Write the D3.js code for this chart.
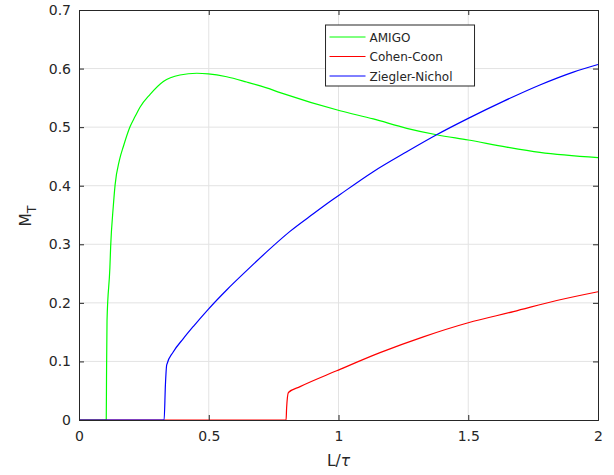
<!DOCTYPE html>
<html>
<head>
<meta charset="utf-8">
<script src="https://cdn.jsdelivr.net/npm/d3@7"></script>
<style>
  body { margin: 0; background: #fff; }
  text { font-family: "DejaVu Sans", sans-serif; fill: #262626; }
</style>
</head>
<body>
<div id="chart"></div>
<script>
// series
var amigoX = [0, 0.105, 0.106, 0.108, 0.119, 0.122, 0.132, 0.139, 0.156, 0.171, 0.197, 0.216, 0.235, 0.274, 0.325, 0.389, 0.454, 0.498, 0.569, 0.646, 0.723, 0.775, 1.006, 1.134, 1.263, 1.378, 1.5, 1.648, 1.776, 2.0];
var amigoY = [0, 0, 0.07, 0.17, 0.26, 0.296, 0.364, 0.401, 0.444, 0.467, 0.501, 0.518, 0.534, 0.556, 0.578, 0.589, 0.592, 0.591, 0.586, 0.577, 0.567, 0.559, 0.528, 0.514, 0.498, 0.487, 0.478, 0.466, 0.457, 0.448];

var cohenX = [0, 0.798, 0.800, 0.807, 0.852, 0.993, 1.160, 1.327, 1.5, 1.674, 1.841, 2.0];
var cohenY = [0, 0, 0.02, 0.047, 0.057, 0.084, 0.115, 0.142, 0.166, 0.185, 0.204, 0.219];

var zieglerX = [0, 0.328, 0.333, 0.338, 0.363, 0.402, 0.441, 0.498, 0.569, 0.646, 0.723, 0.813, 0.903, 0.974, 1.006, 1.134, 1.263, 1.378, 1.5, 1.635, 1.776, 1.905, 2.0];
var zieglerY = [0, 0, 0.06, 0.094, 0.116, 0.139, 0.160, 0.189, 0.222, 0.255, 0.287, 0.322, 0.352, 0.375, 0.385, 0.424, 0.458, 0.487, 0.515, 0.544, 0.572, 0.594, 0.607];

var seriesNames = ["AMIGO", "Cohen-Coon", "Ziegler-Nichol"];
var seriesColors = ["#00ff00", "#ff0000", "#0000ff"];
var xTicks = [0, 0.5, 1, 1.5, 2];
var yTicks = [0, 0.1, 0.2, 0.3, 0.4, 0.5, 0.6, 0.7];

var margin = {top: 10, right: 16, bottom: 55, left: 79},
    width = 614 - margin.left - margin.right,
    height = 475 - margin.top - margin.bottom;

var x = d3.scaleLinear().domain([0, 2]).range([0, width]);
var y = d3.scaleLinear().domain([0, 0.7]).range([height, 0]);

var svg = d3.select("#chart").append("svg")
    .attr("width", 614)
    .attr("height", 475)
  .append("g")
    .attr("transform", "translate(" + margin.left + "," + margin.top + ")");

// grid
svg.append("g")
  .selectAll("line")
  .data(xTicks.slice(1, -1))
  .enter().append("line")
    .attr("x1", function(d) { return x(d); })
    .attr("x2", function(d) { return x(d); })
    .attr("y1", 0)
    .attr("y2", height)
    .style("stroke", "#e3e3e3");

svg.append("g")
  .selectAll("line")
  .data(yTicks.slice(1, -1))
  .enter().append("line")
    .attr("x1", 0)
    .attr("x2", width)
    .attr("y1", function(d) { return y(d); })
    .attr("y2", function(d) { return y(d); })
    .style("stroke", "#e3e3e3");

// lines
var allX = [amigoX, cohenX, zieglerX];
var allY = [amigoY, cohenY, zieglerY];
var line = d3.line()
    .x(function(d) { return x(d[0]); })
    .y(function(d) { return y(d[1]); })
    .curve(d3.curveMonotoneX);

for (var i = 0; i < 3; i++) {
  var pts = d3.zip(allX[i], allY[i]);
  svg.append("path")
    .datum(pts)
    .attr("d", line)
    .style("fill", "none")
    .style("stroke", seriesColors[i])
    .style("stroke-width", 1.2);
}

// axes with inward ticks, MATLAB style box
var xAxis = d3.axisBottom(x).tickValues(xTicks).tickSize(-5).tickPadding(11)
    .tickFormat(function(d) { return d3.format("")(d); });
var yAxis = d3.axisLeft(y).tickValues(yTicks).tickSize(-5).tickPadding(8)
    .tickFormat(function(d) { return d3.format("")(d); });

var gx = svg.append("g").attr("transform", "translate(0," + height + ")").call(xAxis);
var gy = svg.append("g").call(yAxis);
svg.append("g").call(d3.axisTop(x).tickValues(xTicks).tickSize(-5).tickFormat(""));
svg.append("g").attr("transform", "translate(" + width + ",0)")
  .call(d3.axisRight(y).tickValues(yTicks).tickSize(-5).tickFormat(""));

svg.selectAll(".domain").style("stroke", "#262626");
svg.selectAll(".tick line").style("stroke", "#262626");
svg.selectAll(".tick text").style("font-size", "14px").style("fill", "#262626")
  .style("font-family", "DejaVu Sans, sans-serif");

// axis labels
var xl = svg.append("text")
  .attr("x", width / 2)
  .attr("y", height + 46)
  .attr("text-anchor", "middle")
  .style("font-size", "15.5px");
xl.append("tspan").text("L/");
xl.append("tspan").style("font-style", "italic").text("τ");

var yl = svg.append("text")
  .attr("transform", "translate(" + (-48) + "," + (height / 2 + 1) + ") rotate(-90)")
  .attr("text-anchor", "middle")
  .style("font-size", "15.5px");
yl.append("tspan").text("M");
yl.append("tspan").attr("dy", 5).style("font-size", "12.5px").text("T");

// legend
var lg = svg.append("g").attr("transform", "translate(" + (x(0.95)) + "," + 15 + ")");
lg.append("rect")
  .attr("width", 149)
  .attr("height", 61)
  .style("fill", "#fff")
  .style("stroke", "#262626");
seriesNames.forEach(function(name, i) {
  var ry = 12 + i * 19.5;
  lg.append("line")
    .attr("x1", 4).attr("x2", 40)
    .attr("y1", ry).attr("y2", ry)
    .style("stroke", seriesColors[i]);
  lg.append("text")
    .attr("x", 44)
    .attr("y", ry + 4.5)
    .style("font-size", "12px")
    .text(name);
});
</script>
</body>
</html>
